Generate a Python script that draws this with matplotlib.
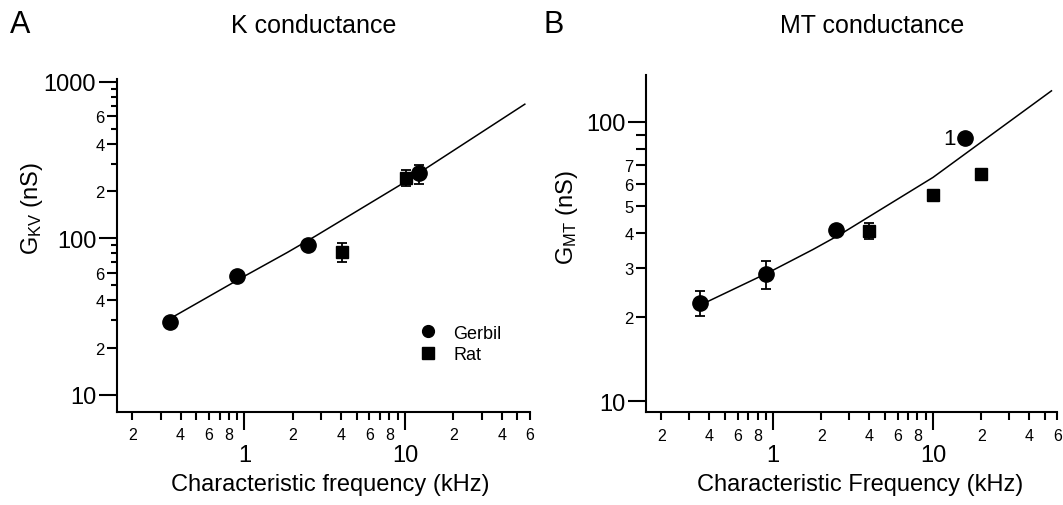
import numpy as np
import matplotlib
matplotlib.use("Agg")
import matplotlib.pyplot as plt
from matplotlib.ticker import FixedLocator, FixedFormatter
from matplotlib.lines import Line2D
from matplotlib import markers
from matplotlib.transforms import blended_transform_factory

plt.rcParams['font.family'] = ['Liberation Sans', 'DejaVu Sans']
plt.rcParams['mathtext.default'] = 'regular'

# ---------------- data ----------------
# Panel A: K conductance
a_gerbil_f = [0.345, 0.90, 2.5, 12.2]
a_gerbil_g = [29.0, 57.4, 90.6, 259.0]
a_gerbil_err = [0.0, 0.0, 0.0, 36.0]
a_rat_f = [4.04, 10.1]
a_rat_g = [81.7, 244.0]
a_rat_err = [11.0, 30.0]
a_fit_f = [0.353, 0.967, 1.85, 2.78, 9.9, 55.7]
a_fit_g = [31.1, 56.1, 81.1, 103.4, 227.0, 718.0]

# Panel B: MT conductance
b_gerbil_f = [0.348, 0.90, 2.49, 15.9]
b_gerbil_g = [22.5, 28.4, 41.0, 87.4]
b_gerbil_err = [2.3, 3.2, 0.0, 0.0]
b_rat_f = [3.98, 10.0, 20.0]
b_rat_g = [40.7, 54.6, 65.0]
b_rat_err = [2.6, 0.0, 0.0]
b_fit_f = [0.365, 0.954, 1.78, 2.61, 10.0, 55.0]
b_fit_g = [22.3, 29.0, 34.9, 39.4, 63.2, 129.0]
b_note_label = "1"

# ticks
x_major = [1, 10]
x_major_labels = ["1", "10"]
x_minor = [0.2, 0.3, 0.4, 0.5, 0.6, 0.7, 0.8, 0.9,
           2, 3, 4, 5, 6, 7, 8, 9, 20, 30, 40, 50, 60]
x_minor_labels = ["2", "", "4", "", "6", "", "8", "",
                  "2", "", "4", "", "6", "", "8", "", "2", "", "4", "", "6"]

a_y_major = [10, 100, 1000]
a_y_major_labels = ["10", "100", "1000"]
a_y_minor = [20, 40, 60, 200, 400, 600]
a_y_minor_labels = ["2", "4", "6", "2", "4", "6"]
a_y_short = [30, 50, 70, 80, 90, 300, 500, 700, 800, 900]

b_y_major = [10, 100]
b_y_major_labels = ["10", "100"]
b_y_minor = [20, 30, 40, 50, 60, 70, 80, 90]
b_y_minor_labels = ["2", "3", "4", "5", "6", "7", "", ""]

# ---------------- figure ----------------
fig = plt.figure(figsize=(10.63, 5.06), dpi=100)
axA = fig.add_axes([0.11007, 0.18379, 0.38852, 0.65810])
axB = fig.add_axes([0.60771, 0.18281, 0.38711, 0.66700])

LW = 1.5


def style(ax, ylim, ymaj, ymajlab, ymin, yminlab):
    ax.set_xscale('log')
    ax.set_yscale('log')
    ax.set_xlim(0.1607, 60)
    ax.set_ylim(*ylim)
    for s in ('top', 'right'):
        ax.spines[s].set_visible(False)
    for s in ('left', 'bottom'):
        ax.spines[s].set_linewidth(LW)
    ax.xaxis.set_major_locator(FixedLocator(x_major))
    ax.xaxis.set_major_formatter(FixedFormatter(x_major_labels))
    ax.xaxis.set_minor_locator(FixedLocator(x_minor))
    ax.xaxis.set_minor_formatter(FixedFormatter(x_minor_labels))
    ax.yaxis.set_major_locator(FixedLocator(ymaj))
    ax.yaxis.set_major_formatter(FixedFormatter(ymajlab))
    ax.yaxis.set_minor_locator(FixedLocator(ymin))
    ax.yaxis.set_minor_formatter(FixedFormatter(yminlab))
    ax.tick_params(axis='x', which='major', length=13, width=LW, labelsize=17, pad=10)
    ax.tick_params(axis='x', which='minor', length=6, width=LW, labelsize=11.5, pad=5)
    ax.tick_params(axis='y', which='major', length=13, width=LW, labelsize=17, pad=2)
    ax.tick_params(axis='y', which='minor', length=7, width=LW, labelsize=12, pad=2)


style(axA, (7.75, 1040), a_y_major, a_y_major_labels, a_y_minor, a_y_minor_labels)
style(axB, (9.1, 147), b_y_major, b_y_major_labels, b_y_minor, b_y_minor_labels)

# extra short unlabeled ticks on panel A y axis
trA = blended_transform_factory(axA.transAxes, axA.transData)
axA.plot(np.zeros(len(a_y_short)), a_y_short, linestyle='none', marker=markers.TICKLEFT,
         ms=4.3, mew=LW, color='black', transform=trA, clip_on=False)

# ---- Panel A data ----
axA.plot(a_fit_f, a_fit_g, color='black', lw=1.1, zorder=2)
axA.errorbar(a_gerbil_f, a_gerbil_g, yerr=a_gerbil_err, fmt='o', color='black',
             ms=11, capsize=3.5, elinewidth=1.3, capthick=1.3, zorder=3)
axA.errorbar(a_rat_f, a_rat_g, yerr=a_rat_err, fmt='s', color='black',
             ms=8.8, capsize=3.5, elinewidth=1.3, capthick=1.3, zorder=3)

handles = [Line2D([], [], linestyle='none', marker='o', color='black', ms=8.5),
           Line2D([], [], linestyle='none', marker='s', color='black', ms=8.2)]
axA.legend(handles, ['Gerbil', 'Rat'], loc='upper left', bbox_to_anchor=(0.731, 0.262),
           frameon=False, fontsize=13, handlelength=1.0, handletextpad=0.9,
           labelspacing=0.25, borderpad=0, borderaxespad=0)

# ---- Panel B data ----
axB.plot(b_fit_f, b_fit_g, color='black', lw=1.1, zorder=2)
axB.errorbar(b_gerbil_f, b_gerbil_g, yerr=b_gerbil_err, fmt='o', color='black',
             ms=11, capsize=3.5, elinewidth=1.3, capthick=1.3, zorder=3)
axB.errorbar(b_rat_f, b_rat_g, yerr=b_rat_err, fmt='s', color='black',
             ms=8.4, capsize=3.5, elinewidth=1.3, capthick=1.3, zorder=3)
axB.annotate(b_note_label, xy=(b_gerbil_f[3], b_gerbil_g[3]), xytext=(-7, 0),
             textcoords='offset points', ha='right', va='center', fontsize=16)

# ---- labels ----
axA.set_xlabel('Characteristic frequency (kHz)', fontsize=17)
axA.xaxis.set_label_coords(0.516, -0.183)
axA.set_ylabel(r'G$_{KV}$ (nS)', fontsize=17)
axA.yaxis.set_label_coords(-0.175, 0.613)

axB.set_xlabel('Characteristic Frequency (kHz)', fontsize=17)
axB.xaxis.set_label_coords(0.52, -0.179)
axB.set_ylabel(r'G$_{MT}$ (nS)', fontsize=17)
axB.yaxis.set_label_coords(-0.16, 0.582)

fig.text(314 / 1063, 1 - 26 / 506, 'K conductance', fontsize=18, ha='center', va='center')
fig.text(872 / 1063, 1 - 26 / 506, 'MT conductance', fontsize=18, ha='center', va='center')
fig.text(10 / 1063, 1 - 25 / 506, 'A', fontsize=22, ha='left', va='center')
fig.text(543 / 1063, 1 - 25 / 506, 'B', fontsize=22, ha='left', va='center')

fig.savefig('out.png', dpi=100)
